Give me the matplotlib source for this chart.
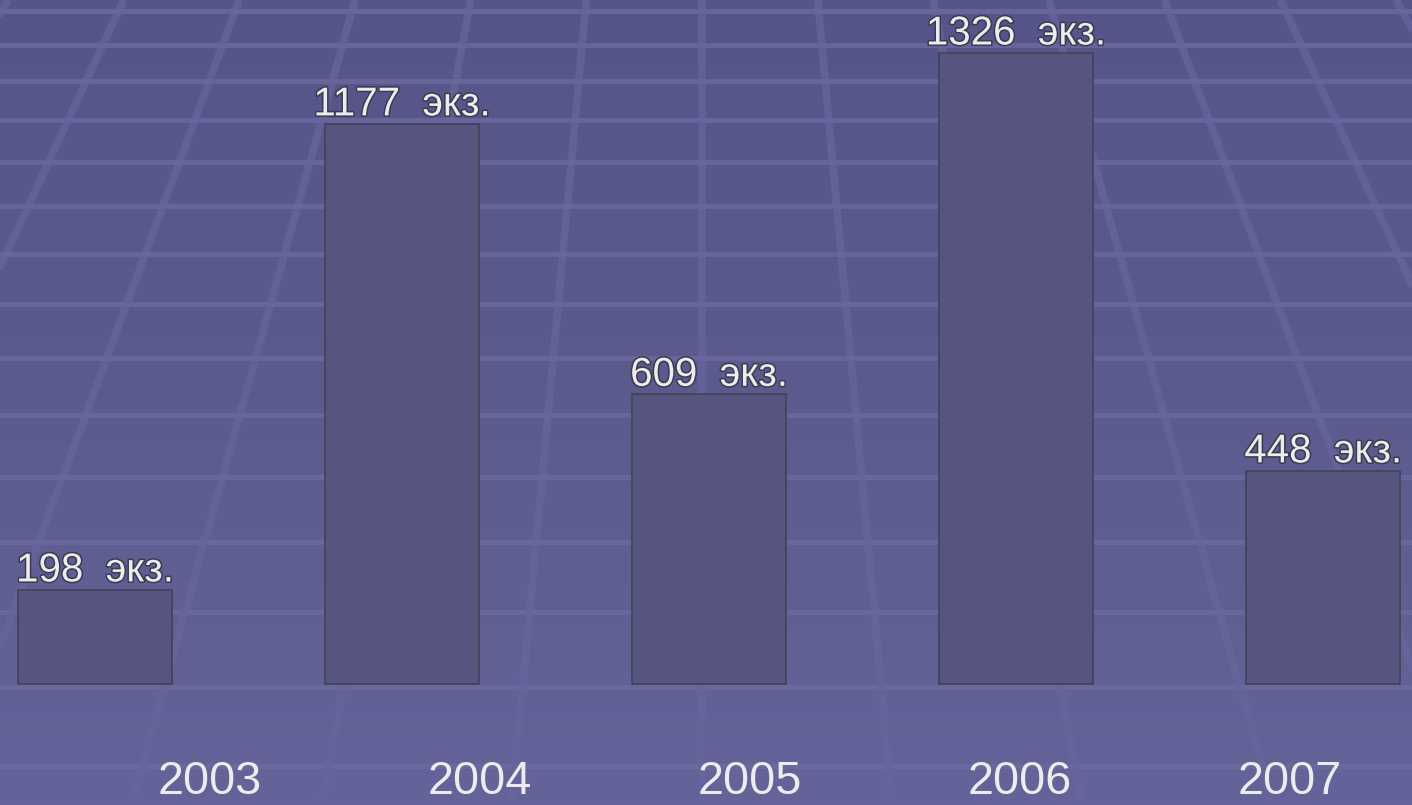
import numpy as np
import matplotlib
matplotlib.use('Agg')
import matplotlib.pyplot as plt
import matplotlib.patheffects as pe
from matplotlib.colors import LinearSegmentedColormap

# ---- data ----
years = ['2003', '2004', '2005', '2006', '2007']
copies = [198, 1177, 609, 1326, 448]
unit = 'экз.'

W, H, DPI = 1412, 805, 100
fig = plt.figure(figsize=(W / DPI, H / DPI), dpi=DPI)

# ---- decorative background (gradient + perspective grid) ----
bg = fig.add_axes([0, 0, 1, 1], zorder=0)
bg.set_xlim(0, W)
bg.set_ylim(H, 0)
bg.axis('off')
cmap = LinearSegmentedColormap.from_list('bg', ['#55558a', '#5b5b8e', '#64649a'])
grad = np.linspace(0, 1, 256).reshape(-1, 1)
bg.imshow(grad, cmap=cmap, extent=[0, W, H, 0], aspect='auto', zorder=0)

r, s0, y0 = 1.067, 36.5, 45
for k in range(-1, 15):
    yy = y0 + s0 * (r ** k - 1) / (r - 1)
    bg.axhline(yy, color='#6c6ca2', lw=3.5, alpha=0.75, zorder=1)

xc, yv, yb, sp = 702, -1250, 760, 186
for j in range(-9, 10):
    xb = xc + sp * j
    x_top = xc + (xb - xc) * (0 - yv) / (yb - yv)
    x_bot = xc + (xb - xc) * (H - yv) / (yb - yv)
    bg.plot([x_top, x_bot], [0, H], color='#66669c', lw=5.5, alpha=0.75,
            zorder=2, solid_capstyle='butt')

# ---- bars ----
ax = fig.add_axes([0, 0, 1, 1], zorder=1)
ax.patch.set_alpha(0)
ax.set_xlim(-95 / 307, (W - 95) / 307)
ax.set_ylim(-121 / 0.476, (H - 121) / 0.476)
ax.axis('off')
x = np.arange(len(years))
ax.bar(x, copies, width=154 / 307, color='#55557f', edgecolor='#44445c',
       linewidth=1.3, zorder=3)
for xi, v in zip(x, copies):
    ax.annotate(f'{v}  {unit}', (xi, v), xytext=(0, 6), textcoords='offset points',
                ha='center', va='baseline', fontsize=29, color='#ececec',
                family=['Liberation Sans', 'DejaVu Sans'], zorder=4,
                path_effects=[pe.withStroke(linewidth=2.2, foreground='#3a3a50')])

# ---- year labels ----
lab = fig.add_axes([0, 0, 1, 1], zorder=2)
lab.patch.set_alpha(0)
lab.axis('off')
lab.set_xlim(-210 / 270, (W - 210) / 270)
lab.set_ylim(0, 1)
for i, yr in enumerate(years):
    lab.text(i, 1 / H, yr, ha='center', va='bottom', fontsize=33.7,
             color='#ececec', family=['Liberation Sans', 'DejaVu Sans'])

fig.savefig('out.png', dpi=DPI)
